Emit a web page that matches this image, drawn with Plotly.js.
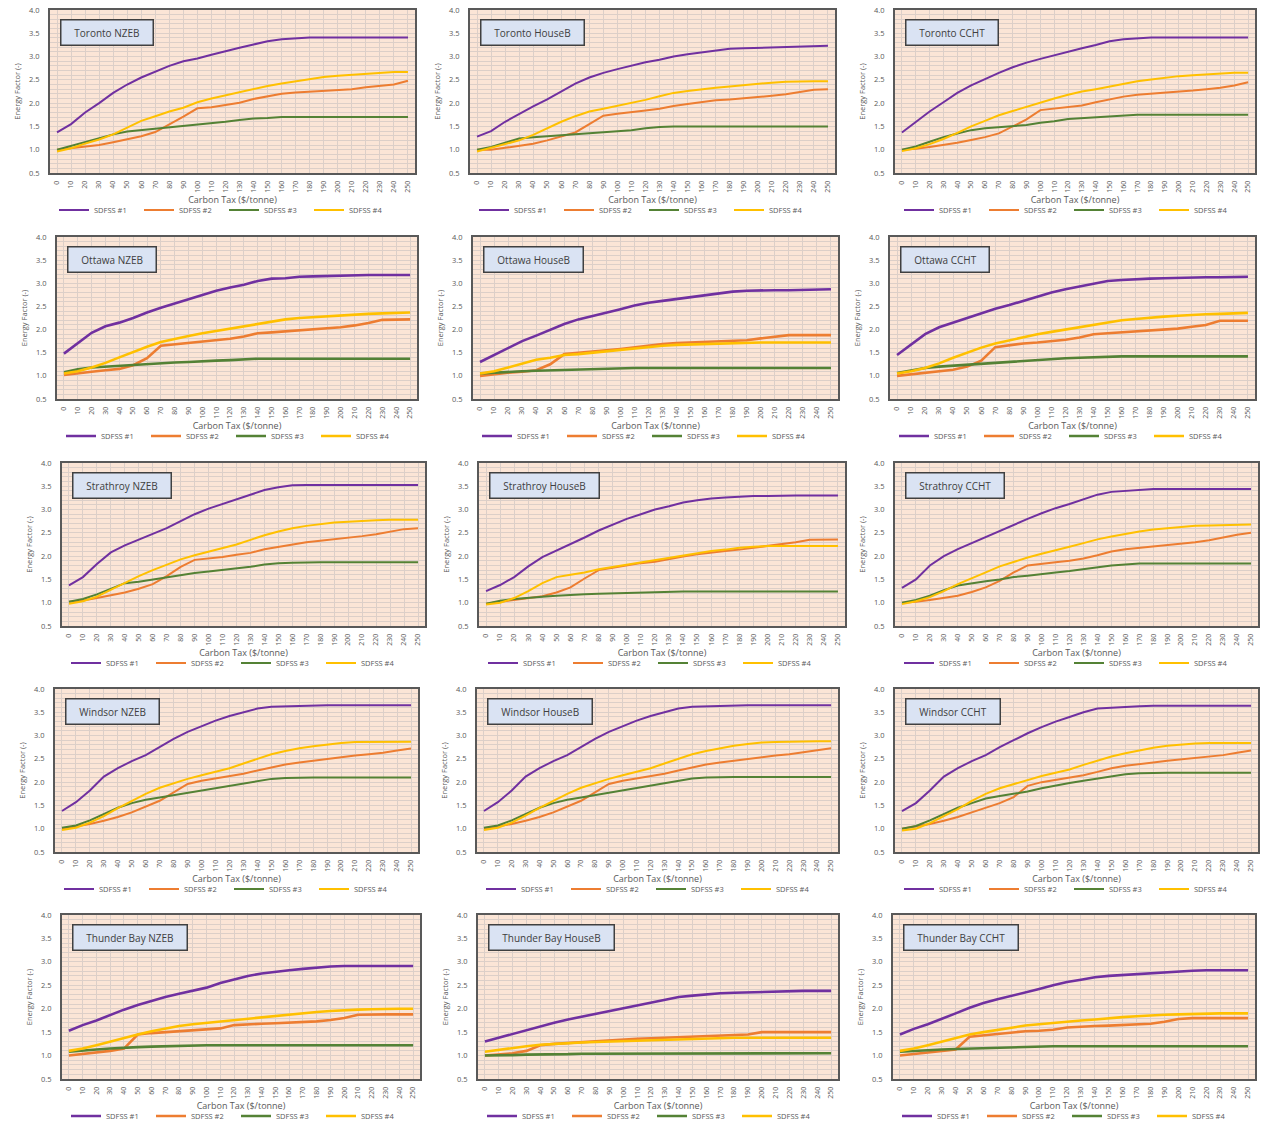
<!DOCTYPE html>
<html>
<head>
<meta charset="utf-8">
<script src="https://cdn.plot.ly/plotly-3.0.1.min.js"></script>
<style>html,body{margin:0;padding:0;background:#fff;}#chart{width:1268px;height:1125px;}</style>
</head>
<body>
<div id="chart"></div>
<script>
// ---------- DATA ----------
const taxLevels = [0,10,20,30,40,50,60,70,80,90,100,110,120,130,140,150,160,170,180,190,200,210,220,230,240,250];
const seriesNames = ['SDFSS #1','SDFSS #2','SDFSS #3','SDFSS #4'];
const panelTitles = ['Toronto NZEB','Toronto HouseB','Toronto CCHT',
  'Ottawa NZEB','Ottawa HouseB','Ottawa CCHT',
  'Strathroy NZEB','Strathroy HouseB','Strathroy CCHT',
  'Windsor NZEB','Windsor HouseB','Windsor CCHT',
  'Thunder Bay NZEB','Thunder Bay HouseB','Thunder Bay CCHT'];
const xTitle = 'Carbon Tax ($/tonne)';
const yTitle = 'Energy Factor (-)';

const torontoNZEB_s1 = [1.37,1.55,1.8,2.0,2.22, 2.4,2.55,2.68,2.8,2.9, 2.96,3.04,3.12,3.19,3.26, 3.33,3.37,3.39,3.41,3.41, 3.41,3.41,3.41,3.41,3.41, 3.41];
const torontoNZEB_s2 = [1.0,1.03,1.07,1.1,1.16, 1.22,1.29,1.38,1.54,1.71, 1.89,1.91,1.96,2.01,2.09, 2.14,2.2,2.23,2.25,2.26, 2.28,2.3,2.34,2.37,2.4, 2.48];
const torontoNZEB_s3 = [1.0,1.08,1.17,1.25,1.33, 1.39,1.42,1.45,1.47,1.5, 1.54,1.57,1.6,1.64,1.67, 1.68,1.7,1.7,1.7,1.7, 1.7,1.7,1.7,1.7,1.7, 1.7];
const torontoNZEB_s4 = [0.96,1.03,1.13,1.22,1.33, 1.47,1.62,1.72,1.82,1.9, 2.02,2.1,2.17,2.24,2.31, 2.37,2.42,2.47,2.52,2.56, 2.59,2.61,2.63,2.65,2.67, 2.67];

const torontoHouseB_s1 = [1.28,1.4,1.6,1.77,1.93, 2.08,2.25,2.42,2.55,2.65, 2.73,2.8,2.88,2.93,3.0, 3.05,3.09,3.13,3.17,3.18, 3.19,3.2,3.21,3.22,3.22, 3.23];
const torontoHouseB_s2 = [1.0,1.0,1.04,1.08,1.13, 1.2,1.28,1.37,1.55,1.73, 1.77,1.8,1.84,1.88,1.94, 1.98,2.02,2.06,2.08,2.1, 2.13,2.16,2.19,2.24,2.29, 2.3];
const torontoHouseB_s3 = [1.0,1.06,1.15,1.24,1.27, 1.29,1.31,1.34,1.36,1.38, 1.4,1.42,1.46,1.49,1.5, 1.5,1.5,1.5,1.5,1.5, 1.5,1.5,1.5,1.5,1.5, 1.5];
const torontoHouseB_s4 = [0.96,1.04,1.12,1.2,1.32, 1.46,1.6,1.72,1.82,1.88, 1.94,2.0,2.07,2.15,2.22, 2.26,2.3,2.33,2.36,2.39, 2.42,2.44,2.46,2.47,2.47, 2.47];

const torontoCCHT_s1 = [1.37,1.6,1.82,2.02,2.22, 2.38,2.52,2.65,2.77,2.87, 2.95,3.03,3.1,3.18,3.25, 3.33,3.37,3.39,3.41,3.41, 3.41,3.41,3.41,3.41,3.41, 3.41];
const torontoCCHT_s2 = [1.0,1.02,1.06,1.1,1.15, 1.21,1.27,1.35,1.5,1.65, 1.85,1.88,1.92,1.95,2.02, 2.08,2.14,2.18,2.2,2.22, 2.24,2.27,2.3,2.33,2.38, 2.45];
const torontoCCHT_s3 = [1.0,1.07,1.17,1.27,1.35, 1.42,1.46,1.48,1.5,1.53, 1.58,1.61,1.66,1.68,1.7, 1.72,1.74,1.75,1.75,1.75, 1.75,1.75,1.75,1.75,1.75, 1.75];
const torontoCCHT_s4 = [0.97,1.03,1.12,1.23,1.36, 1.5,1.62,1.74,1.83,1.92, 2.02,2.1,2.18,2.25,2.3, 2.36,2.42,2.47,2.51,2.55, 2.58,2.6,2.62,2.63,2.65, 2.65];

const ottawaNZEB_s1 = [1.48,1.7,1.93,2.07,2.15, 2.25,2.37,2.47,2.56,2.66, 2.75,2.84,2.91,2.97,3.05, 3.1,3.11,3.14,3.15,3.16, 3.17,3.17,3.18,3.18,3.18, 3.18];
const ottawaNZEB_s2 = [1.02,1.06,1.09,1.12,1.15, 1.23,1.38,1.65,1.68,1.72, 1.75,1.77,1.8,1.85,1.92, 1.94,1.96,1.98,2.0,2.02, 2.05,2.09,2.14,2.21,2.22, 2.22];
const ottawaNZEB_s3 = [1.08,1.14,1.18,1.2,1.22, 1.24,1.26,1.28,1.29,1.3, 1.32,1.33,1.34,1.36,1.37, 1.37,1.37,1.37,1.37,1.37, 1.37,1.37,1.37,1.37,1.37, 1.37];
const ottawaNZEB_s4 = [1.05,1.1,1.18,1.28,1.4, 1.52,1.63,1.73,1.8,1.86, 1.92,1.97,2.02,2.07,2.12, 2.17,2.22,2.25,2.27,2.29, 2.31,2.33,2.34,2.35,2.36, 2.37];

const ottawaHouseB_s1 = [1.3,1.45,1.6,1.75,1.87, 2.0,2.12,2.22,2.29,2.36, 2.44,2.52,2.58,2.62,2.66, 2.71,2.75,2.79,2.82,2.84, 2.85,2.85,2.85,2.86,2.87, 2.87];
const ottawaHouseB_s2 = [1.0,1.04,1.07,1.09,1.12, 1.25,1.47,1.5,1.52,1.55, 1.58,1.62,1.65,1.69,1.71, 1.72,1.73,1.74,1.75,1.77, 1.81,1.85,1.88,1.88,1.88, 1.88];
const ottawaHouseB_s3 = [1.05,1.07,1.09,1.1,1.11, 1.12,1.13,1.14,1.15,1.16, 1.17,1.17,1.17,1.17,1.17, 1.17,1.17,1.17,1.17,1.17, 1.17,1.17,1.17,1.17,1.17, 1.17];
const ottawaHouseB_s4 = [1.05,1.1,1.18,1.26,1.35, 1.39,1.45,1.47,1.5,1.53, 1.57,1.6,1.62,1.65,1.67, 1.68,1.69,1.7,1.7,1.71, 1.72,1.72,1.72,1.72,1.72, 1.72];

const ottawaCCHT_s1 = [1.45,1.68,1.9,2.05,2.15, 2.25,2.35,2.45,2.53,2.62, 2.7,2.8,2.87,2.93,3.0, 3.05,3.07,3.09,3.1,3.11, 3.12,3.12,3.13,3.13,3.13, 3.14];
const ottawaCCHT_s2 = [1.0,1.03,1.07,1.1,1.13, 1.2,1.33,1.62,1.66,1.7, 1.72,1.75,1.78,1.83,1.9, 1.92,1.94,1.96,1.98,2.0, 2.02,2.06,2.1,2.19,2.19, 2.19];
const ottawaCCHT_s3 = [1.06,1.12,1.17,1.2,1.22, 1.25,1.27,1.29,1.31,1.33, 1.35,1.37,1.38,1.39,1.4, 1.42,1.42,1.42,1.42,1.42, 1.42,1.42,1.42,1.42,1.42, 1.42];
const ottawaCCHT_s4 = [1.05,1.1,1.17,1.27,1.39, 1.5,1.61,1.7,1.77,1.84, 1.9,1.95,2.0,2.05,2.1, 2.15,2.2,2.23,2.26,2.28, 2.3,2.32,2.33,2.34,2.35, 2.36];

const strathroyNZEB_s1 = [1.37,1.55,1.83,2.08,2.23, 2.35,2.47,2.6,2.75,2.9, 3.02,3.12,3.22,3.32,3.42, 3.48,3.52,3.53,3.53,3.53, 3.53,3.53,3.53,3.53,3.53, 3.53];
const strathroyNZEB_s2 = [1.02,1.05,1.1,1.16,1.22, 1.3,1.4,1.57,1.77,1.92, 1.95,1.98,2.03,2.07,2.15, 2.2,2.26,2.3,2.33,2.36, 2.39,2.43,2.47,2.52,2.58, 2.6];
const strathroyNZEB_s3 = [1.02,1.08,1.18,1.3,1.42, 1.45,1.5,1.55,1.6,1.64, 1.67,1.7,1.73,1.77,1.82, 1.85,1.86,1.87,1.87,1.87, 1.87,1.87,1.87,1.87,1.87, 1.87];
const strathroyNZEB_s4 = [0.98,1.03,1.13,1.28,1.42, 1.57,1.7,1.82,1.93,2.02, 2.1,2.17,2.25,2.35,2.45, 2.53,2.6,2.65,2.69,2.72, 2.74,2.76,2.77,2.78,2.78, 2.78];

const strathroyHouseB_s1 = [1.25,1.38,1.55,1.78,1.98, 2.12,2.25,2.4,2.55,2.68, 2.8,2.9,3.0,3.07,3.15, 3.2,3.24,3.26,3.28,3.29, 3.29,3.3,3.3,3.3,3.3, 3.3];
const strathroyHouseB_s2 = [0.98,1.02,1.05,1.1,1.14, 1.22,1.33,1.52,1.7,1.75, 1.8,1.85,1.88,1.94,1.99, 2.04,2.08,2.11,2.14,2.18, 2.22,2.25,2.3,2.35,2.36, 2.36];
const strathroyHouseB_s3 = [0.98,1.04,1.08,1.11,1.13, 1.15,1.17,1.18,1.19,1.2, 1.21,1.22,1.23,1.24,1.24, 1.24,1.24,1.24,1.24,1.24, 1.24,1.24,1.24,1.24,1.24, 1.24];
const strathroyHouseB_s4 = [0.96,1.0,1.1,1.25,1.42, 1.55,1.6,1.65,1.72,1.77, 1.82,1.87,1.92,1.97,2.02, 2.07,2.11,2.14,2.18,2.2, 2.22,2.22,2.22,2.22,2.22, 2.22];

const strathroyCCHT_s1 = [1.32,1.5,1.8,2.0,2.15, 2.28,2.42,2.55,2.68,2.8, 2.92,3.03,3.12,3.22,3.32, 3.38,3.4,3.42,3.44,3.44, 3.44,3.44,3.44,3.44,3.44, 3.44];
const strathroyCCHT_s2 = [1.0,1.02,1.06,1.1,1.15, 1.23,1.33,1.47,1.65,1.8, 1.84,1.87,1.9,1.95,2.02, 2.1,2.15,2.18,2.21,2.23, 2.26,2.3,2.34,2.4,2.46, 2.5];
const strathroyCCHT_s3 = [1.0,1.06,1.15,1.27,1.37, 1.42,1.46,1.5,1.55,1.58, 1.62,1.65,1.68,1.72,1.76, 1.8,1.82,1.84,1.84,1.84, 1.84,1.84,1.84,1.84,1.84, 1.84];
const strathroyCCHT_s4 = [0.97,1.03,1.12,1.25,1.4, 1.52,1.65,1.78,1.88,1.97, 2.05,2.12,2.2,2.28,2.36, 2.42,2.48,2.53,2.57,2.6, 2.63,2.65,2.66,2.67,2.68, 2.68];

const windsorNZEB_s1 = [1.38,1.57,1.82,2.12,2.3, 2.45,2.58,2.75,2.93,3.08, 3.2,3.32,3.42,3.5,3.58, 3.62,3.63,3.64,3.65,3.65, 3.65,3.65,3.65,3.65,3.65, 3.65];
const windsorNZEB_s2 = [1.0,1.05,1.1,1.17,1.25, 1.35,1.47,1.6,1.78,1.96, 2.03,2.08,2.13,2.18,2.25, 2.32,2.38,2.42,2.46,2.5, 2.54,2.57,2.6,2.63,2.68, 2.72];
const windsorNZEB_s3 = [1.02,1.07,1.18,1.32,1.45, 1.55,1.62,1.67,1.72,1.77, 1.82,1.87,1.93,1.98,2.02, 2.07,2.09,2.1,2.1,2.1, 2.1,2.1,2.1,2.1,2.1, 2.1];
const windsorNZEB_s4 = [0.97,1.02,1.13,1.27,1.44, 1.6,1.75,1.88,1.98,2.07, 2.15,2.22,2.3,2.4,2.5, 2.6,2.67,2.73,2.77,2.81, 2.84,2.86,2.86,2.87,2.87, 2.87];

const windsorHouseB_s1 = [1.38,1.57,1.82,2.12,2.3, 2.45,2.58,2.75,2.93,3.08, 3.2,3.32,3.42,3.5,3.58, 3.62,3.63,3.64,3.65,3.65, 3.65,3.65,3.65,3.65,3.65, 3.65];
const windsorHouseB_s2 = [1.0,1.05,1.1,1.17,1.25, 1.35,1.47,1.6,1.78,1.96, 2.03,2.08,2.13,2.18,2.25, 2.32,2.38,2.42,2.46,2.5, 2.54,2.57,2.6,2.64,2.69, 2.73];
const windsorHouseB_s3 = [1.02,1.07,1.18,1.32,1.45, 1.55,1.62,1.67,1.72,1.77, 1.82,1.87,1.93,1.98,2.03, 2.08,2.1,2.11,2.11,2.11, 2.11,2.11,2.11,2.11,2.11, 2.11];
const windsorHouseB_s4 = [0.97,1.02,1.13,1.28,1.45, 1.6,1.75,1.88,1.98,2.07, 2.15,2.22,2.3,2.4,2.5, 2.6,2.67,2.73,2.78,2.82, 2.85,2.86,2.87,2.87,2.88, 2.88];

const windsorCCHT_s1 = [1.38,1.55,1.82,2.12,2.3, 2.45,2.58,2.75,2.9,3.05, 3.18,3.3,3.4,3.5,3.58, 3.6,3.62,3.63,3.64,3.64, 3.64,3.64,3.64,3.64,3.64, 3.64];
const windsorCCHT_s2 = [1.0,1.05,1.1,1.17,1.25, 1.35,1.45,1.55,1.68,1.92, 2.0,2.05,2.1,2.15,2.22, 2.3,2.35,2.38,2.42,2.46, 2.49,2.52,2.55,2.58,2.63, 2.68];
const windsorCCHT_s3 = [1.0,1.06,1.18,1.32,1.45, 1.55,1.65,1.7,1.75,1.8, 1.87,1.93,1.98,2.03,2.08, 2.13,2.17,2.19,2.2,2.2, 2.2,2.2,2.2,2.2,2.2, 2.2];
const windsorCCHT_s4 = [0.96,1.0,1.12,1.27,1.42, 1.6,1.75,1.87,1.96,2.05, 2.13,2.2,2.27,2.37,2.46, 2.55,2.62,2.68,2.74,2.78, 2.81,2.83,2.84,2.84,2.84, 2.84];

const thunderBayNZEB_s1 = [1.53,1.65,1.75,1.87,1.98, 2.08,2.17,2.25,2.32,2.38, 2.45,2.55,2.63,2.7,2.75, 2.79,2.82,2.85,2.88,2.9, 2.91,2.91,2.91,2.91,2.91, 2.91];
const thunderBayNZEB_s2 = [1.0,1.03,1.06,1.1,1.15, 1.45,1.48,1.5,1.52,1.53, 1.55,1.58,1.65,1.67,1.68, 1.69,1.7,1.71,1.73,1.76, 1.8,1.87,1.88,1.88,1.88, 1.88];
const thunderBayNZEB_s3 = [1.08,1.11,1.13,1.15,1.17, 1.18,1.19,1.2,1.2,1.21, 1.22,1.22,1.22,1.22,1.22, 1.22,1.22,1.22,1.22,1.22, 1.22,1.22,1.22,1.22,1.22, 1.22];
const thunderBayNZEB_s4 = [1.1,1.15,1.22,1.3,1.37, 1.45,1.52,1.58,1.63,1.67, 1.7,1.73,1.76,1.79,1.82, 1.85,1.88,1.9,1.93,1.95, 1.97,1.98,1.99,2.0,2.0, 2.0];

const thunderBayHouseB_s1 = [1.3,1.38,1.47,1.55,1.62, 1.7,1.77,1.83,1.9,1.96, 2.02,2.08,2.14,2.2,2.25, 2.28,2.31,2.33,2.34,2.35, 2.36,2.37,2.37,2.38,2.38, 2.38];
const thunderBayHouseB_s2 = [1.0,1.02,1.05,1.1,1.22, 1.25,1.27,1.28,1.3,1.32, 1.34,1.36,1.37,1.38,1.39, 1.4,1.41,1.42,1.43,1.45, 1.5,1.5,1.5,1.5,1.5, 1.5];
const thunderBayHouseB_s3 = [1.0,1.0,1.01,1.02,1.02, 1.03,1.03,1.04,1.04,1.05, 1.05,1.05,1.05,1.05,1.05, 1.05,1.05,1.05,1.05,1.05, 1.05,1.05,1.05,1.05,1.05, 1.05];
const thunderBayHouseB_s4 = [1.08,1.12,1.17,1.2,1.23, 1.25,1.27,1.28,1.29,1.3, 1.31,1.32,1.33,1.34,1.35, 1.36,1.37,1.37,1.38,1.38, 1.38,1.38,1.38,1.38,1.38, 1.38];

const thunderBayCCHT_s1 = [1.45,1.57,1.67,1.78,1.9, 2.02,2.12,2.2,2.27,2.35, 2.42,2.5,2.57,2.62,2.67, 2.7,2.72,2.74,2.76,2.78, 2.8,2.81,2.82,2.82,2.82, 2.82];
const thunderBayCCHT_s2 = [1.0,1.03,1.07,1.1,1.13, 1.4,1.43,1.47,1.5,1.52, 1.53,1.55,1.6,1.62,1.63, 1.64,1.65,1.66,1.68,1.72, 1.78,1.8,1.8,1.8,1.8, 1.8];
const thunderBayCCHT_s3 = [1.08,1.1,1.12,1.13,1.14, 1.15,1.16,1.17,1.18,1.18, 1.19,1.2,1.2,1.2,1.2, 1.2,1.2,1.2,1.2,1.2, 1.2,1.2,1.2,1.2,1.2, 1.2];
const thunderBayCCHT_s4 = [1.1,1.15,1.22,1.3,1.38, 1.45,1.5,1.55,1.6,1.64, 1.67,1.7,1.73,1.75,1.77, 1.8,1.82,1.84,1.86,1.87, 1.88,1.89,1.9,1.9,1.9, 1.9];

// ---------- BUILD ----------
const panelSeries = [
  [torontoNZEB_s1, torontoNZEB_s2, torontoNZEB_s3, torontoNZEB_s4],
  [torontoHouseB_s1, torontoHouseB_s2, torontoHouseB_s3, torontoHouseB_s4],
  [torontoCCHT_s1, torontoCCHT_s2, torontoCCHT_s3, torontoCCHT_s4],
  [ottawaNZEB_s1, ottawaNZEB_s2, ottawaNZEB_s3, ottawaNZEB_s4],
  [ottawaHouseB_s1, ottawaHouseB_s2, ottawaHouseB_s3, ottawaHouseB_s4],
  [ottawaCCHT_s1, ottawaCCHT_s2, ottawaCCHT_s3, ottawaCCHT_s4],
  [strathroyNZEB_s1, strathroyNZEB_s2, strathroyNZEB_s3, strathroyNZEB_s4],
  [strathroyHouseB_s1, strathroyHouseB_s2, strathroyHouseB_s3, strathroyHouseB_s4],
  [strathroyCCHT_s1, strathroyCCHT_s2, strathroyCCHT_s3, strathroyCCHT_s4],
  [windsorNZEB_s1, windsorNZEB_s2, windsorNZEB_s3, windsorNZEB_s4],
  [windsorHouseB_s1, windsorHouseB_s2, windsorHouseB_s3, windsorHouseB_s4],
  [windsorCCHT_s1, windsorCCHT_s2, windsorCCHT_s3, windsorCCHT_s4],
  [thunderBayNZEB_s1, thunderBayNZEB_s2, thunderBayNZEB_s3, thunderBayNZEB_s4],
  [thunderBayHouseB_s1, thunderBayHouseB_s2, thunderBayHouseB_s3, thunderBayHouseB_s4],
  [thunderBayCCHT_s1, thunderBayCCHT_s2, thunderBayCCHT_s3, thunderBayCCHT_s4]
];

const W = 1268, H = 1125;
const FONT = 'Open Sans, Lato, sans-serif';
const colors = ['#7030A0', '#ED7D31', '#548235', '#FFC000'];
const gridColor = '#DCCFC8';
const axisText = '#595959';
// plot-area rectangles in pixels: [left, right, top, bottom]
const rects = [
  [50,415,10,173],[470,835,10,173],[895,1255,10,173],
  [57,417,237,399],[473,838,237,399],[890,1255,237,399],
  [62,425,463,626],[479,845,463,626],[895,1258,463,626],
  [55,418,689,852],[477,838,689,852],[895,1258,689,852],
  [62,420,915,1079],[478,838,915,1079],[893,1255,915,1079]
];
const rowLineWidth = [2, 2.6, 2, 2, 2.6];

const traces = [];
const layout = {
  width: W, height: H,
  margin: {l:0, r:0, t:0, b:0, autoexpand: false},
  paper_bgcolor: '#FFFFFF',
  plot_bgcolor: '#FBE5D6',
  font: {family: FONT, color: axisText},
  showlegend: true,
  annotations: []
};

panelSeries.forEach((series, p) => {
  const id = p === 0 ? '' : String(p + 1);
  const [l, r, t, b] = rects[p];
  const row = Math.floor(p / 3);
  const legendName = 'legend' + id;

  series.forEach((vals, s) => {
    traces.push({
      type: 'scatter', mode: 'lines',
      x: taxLevels, y: vals,
      name: seriesNames[s],
      xaxis: 'x' + id, yaxis: 'y' + id,
      legend: legendName,
      line: {color: colors[s], width: rowLineWidth[row]},
      hoverinfo: 'x+y+name'
    });
  });

  layout['xaxis' + id] = {
    domain: [l / W, r / W],
    anchor: 'y' + id,
    range: [-5, 255],
    tickmode: 'array',
    tickvals: taxLevels,
    ticktext: taxLevels.map(String),
    tickangle: -90,
    tickfont: {size: 7, color: axisText, family: FONT},
    ticks: '',
    ticklabelstandoff: 3,
    showgrid: true, gridcolor: gridColor, gridwidth: 0.8,
    zeroline: false,
    showline: true, mirror: true, linecolor: '#595959', linewidth: 2,
    title: {text: xTitle, font: {size: 9, color: axisText, family: FONT}, standoff: 3},
    fixedrange: true
  };
  layout['yaxis' + id] = {
    domain: [1 - b / H, 1 - t / H],
    anchor: 'x' + id,
    range: [0.5, 4.0],
    tick0: 0.5, dtick: 0.5,
    tickformat: '.1f',
    tickfont: {size: 7.5, color: axisText, family: FONT},
    ticks: '',
    ticklabelstandoff: 7,
    showgrid: true, gridcolor: gridColor, gridwidth: 0.8,
    minor: {dtick: 0.1, showgrid: true, gridcolor: gridColor, gridwidth: 0.8},
    zeroline: false,
    showline: true, mirror: true, linecolor: '#595959', linewidth: 2,
    title: {text: yTitle, font: {size: 7.5, color: axisText, family: FONT}, standoff: 7},
    fixedrange: true
  };
  layout[legendName] = {
    orientation: 'h',
    x: (l + 4) / W, xanchor: 'left',
    y: 1 - (b + 37) / H, yanchor: 'middle',
    font: {size: 7.5, color: axisText, family: FONT},
    bgcolor: 'rgba(0,0,0,0)',
    borderwidth: 0,
    entrywidth: 40, entrywidthmode: 'pixels',
    itemwidth: 30,
    itemclick: false, itemdoubleclick: false
  };
  layout.annotations.push({
    xref: 'x' + id + ' domain', yref: 'y' + id + ' domain',
    x: 10 / (r - l), y: 1 - 9 / (b - t),
    xanchor: 'left', yanchor: 'top',
    showarrow: false,
    text: '\u00a0\u00a0\u00a0' + panelTitles[p] + '\u00a0\u00a0\u00a0',
    font: {size: 10, color: '#404040', family: FONT},
    bgcolor: '#DAE3F3',
    bordercolor: '#404040',
    borderwidth: 1.5,
    borderpad: 5
  });
});

Plotly.newPlot('chart', traces, layout, {displayModeBar: false, staticPlot: false});
</script>
</body>
</html>
